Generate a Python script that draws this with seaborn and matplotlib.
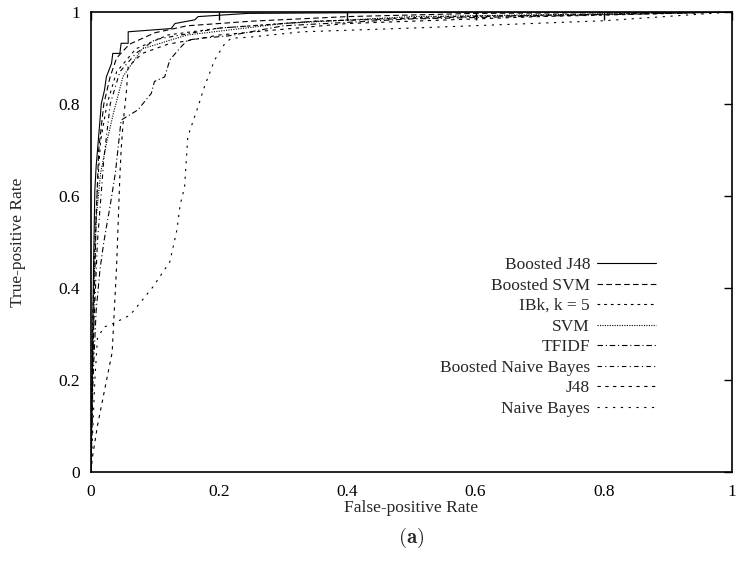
import pandas as pd
import matplotlib.pyplot as plt
import seaborn as sns

# ROC curves
models = ["Boosted J48", "Boosted SVM", "IBk, k = 5", "SVM", "TFIDF",
          "Boosted Naive Bayes", "J48", "Naive Bayes"]

bj48_fpr = [0, 0.002, 0.004, 0.006, 0.008, 0.011, 0.014, 0.016, 0.021, 0.024, 0.032, 0.034, 0.045, 0.047, 0.058, 0.058, 0.125, 0.131, 0.162, 0.167, 0.245, 0.6, 1]
bj48_tpr = [0, 0.2, 0.45, 0.613, 0.664, 0.714, 0.765, 0.80, 0.83, 0.859, 0.888, 0.91, 0.91, 0.932, 0.932, 0.957, 0.964, 0.975, 0.983, 0.99, 0.997, 1.0, 1.0]

bsvm_fpr = [0, 0.003, 0.008, 0.012, 0.02, 0.03, 0.04, 0.06, 0.1, 0.15, 0.25, 0.4, 0.6, 1]
bsvm_tpr = [0, 0.25, 0.55, 0.7, 0.8, 0.86, 0.9, 0.93, 0.955, 0.97, 0.98, 0.99, 0.997, 1]

ibk_fpr = [0, 0.002, 0.006, 0.01, 0.015, 0.025, 0.04, 0.07, 0.12, 0.2, 0.35, 0.55, 0.8, 1]
ibk_tpr = [0, 0.3, 0.5, 0.62, 0.72, 0.8, 0.87, 0.92, 0.95, 0.965, 0.98, 0.99, 0.995, 1]

svm_fpr = [0, 0.003, 0.008, 0.015, 0.025, 0.035, 0.05, 0.08, 0.15, 0.3, 0.5, 1]
svm_tpr = [0, 0.35, 0.55, 0.65, 0.72, 0.78, 0.86, 0.92, 0.95, 0.975, 0.99, 1]

tfidf_fpr = [0, 0.003, 0.008, 0.014, 0.02, 0.03, 0.038, 0.047, 0.073, 0.094, 0.099, 0.115, 0.123, 0.141, 0.151, 0.172, 0.214, 0.3, 0.5, 1]
tfidf_tpr = [0, 0.2, 0.35, 0.44, 0.5, 0.58, 0.65, 0.765, 0.787, 0.823, 0.849, 0.859, 0.896, 0.925, 0.939, 0.943, 0.948, 0.97, 0.985, 1]

bnb_fpr = [0, 0.004, 0.01, 0.02, 0.03, 0.045, 0.07, 0.1, 0.2, 0.35, 0.6, 1]
bnb_tpr = [0, 0.3, 0.5, 0.68, 0.8, 0.87, 0.91, 0.94, 0.965, 0.98, 0.99, 1]

j48_fpr = [0, 0.002, 0.01, 0.02, 0.033, 0.04, 0.045, 0.047, 0.05, 0.055, 0.058, 0.08, 0.12, 0.2, 0.4, 0.7, 1]
j48_tpr = [0, 0.03, 0.1, 0.17, 0.26, 0.45, 0.642, 0.7, 0.758, 0.823, 0.881, 0.91, 0.93, 0.95, 0.975, 0.99, 1]

nb_fpr = [0, 0.003, 0.006, 0.01, 0.02, 0.035, 0.061, 0.097, 0.123, 0.134, 0.139, 0.146, 0.151, 0.167, 0.177, 0.193, 0.209, 0.219, 0.245, 0.33, 0.5, 0.8, 1]
nb_tpr = [0, 0.1, 0.2, 0.29, 0.315, 0.323, 0.341, 0.403, 0.457, 0.526, 0.58, 0.62, 0.729, 0.794, 0.838, 0.896, 0.932, 0.943, 0.945, 0.957, 0.965, 0.981, 1]

xticks = [0, 0.2, 0.4, 0.6, 0.8, 1]
yticks = [0, 0.2, 0.4, 0.6, 0.8, 1]
tick_labels = ["0", "0.2", "0.4", "0.6", "0.8", "1"]

curves = [(bj48_fpr, bj48_tpr), (bsvm_fpr, bsvm_tpr), (ibk_fpr, ibk_tpr), (svm_fpr, svm_tpr),
          (tfidf_fpr, tfidf_tpr), (bnb_fpr, bnb_tpr), (j48_fpr, j48_tpr), (nb_fpr, nb_tpr)]
frames = []
for name, (fx, ty) in zip(models, curves):
    frames.append(pd.DataFrame({"fpr": fx, "tpr": ty, "model": name}))
df = pd.concat(frames, ignore_index=True)

dash_styles = {
    "Boosted J48": "",
    "Boosted SVM": (5, 3),
    "IBk, k = 5": (2.5, 3.5),
    "SVM": (1, 1.2),
    "TFIDF": (5, 2.5, 1, 2.5),
    "Boosted Naive Bayes": (4, 3, 1, 3),
    "J48": (3, 4),
    "Naive Bayes": (2, 5),
}

sns.set_theme(style="white")
plt.rcParams['font.family'] = ['Liberation Serif', 'DejaVu Serif']
plt.rcParams['mathtext.fontset'] = 'cm'

fig = plt.figure(figsize=(7.36, 5.70), dpi=100)
ax = fig.add_axes([91 / 736, 1 - 472 / 570, 641 / 736, 460 / 570])

sns.lineplot(data=df, x="fpr", y="tpr", style="model", style_order=models,
             dashes=dash_styles, color="black", linewidth=0.8,
             estimator=None, sort=False, ax=ax)

ax.set_xlim(0, 1)
ax.set_ylim(0, 1)
ax.set_xticks(xticks)
ax.set_xticklabels(tick_labels)
ax.set_yticks(yticks)
ax.set_yticklabels(tick_labels)
ax.tick_params(direction="in", length=6, width=1, top=True, right=True,
               labelsize=12.5, colors="black", pad=9)
ax.tick_params(axis="y", pad=8)
for sp in ax.spines.values():
    sp.set_linewidth(1.2)
    sp.set_color("black")
ax.set_xlabel("")
ax.set_ylabel("")

old = ax.get_legend()
handles = old.legend_handles
labels = [t.get_text() for t in old.get_texts()]
old.remove()
for h in handles:
    h.set_color("black")
    h.set_linewidth(0.8)
ax.legend(handles, labels, loc="upper right", markerfirst=False, frameon=False,
          fontsize=12.5, handlelength=3.4, handletextpad=0.4, labelspacing=0.25,
          borderpad=0, borderaxespad=0,
          bbox_to_anchor=(656 / 736, 1 - 257 / 570), bbox_transform=fig.transFigure)

fig.text(411.5 / 736, 1 - 508 / 570, "False-positive Rate", ha="center", va="center", fontsize=12.5)
fig.text(18 / 736, 1 - 242 / 570, "True-positive Rate", ha="center", va="center",
         rotation=90, fontsize=12.5)
fig.text(411.5 / 736, 1 - 538 / 570, r"$(\mathbf{a})$", ha="center", va="center", fontsize=15)

fig.savefig("out.png", dpi=100)
